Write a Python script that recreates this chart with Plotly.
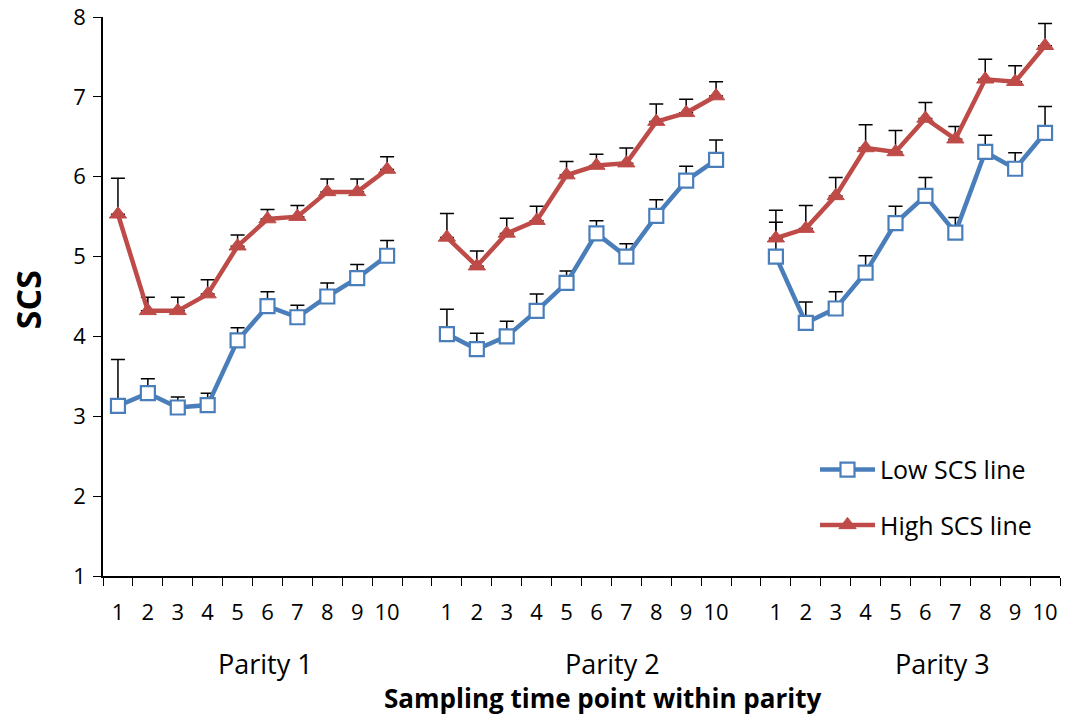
import plotly.graph_objects as go

parities = ["Parity 1", "Parity 2", "Parity 3"]
time_points = ["1", "2", "3", "4", "5", "6", "7", "8", "9", "10"]

low_mean = [
    [3.13, 3.29, 3.11, 3.14, 3.95, 4.38, 4.24, 4.50, 4.73, 5.01],
    [4.03, 3.84, 4.00, 4.32, 4.67, 5.29, 5.00, 5.51, 5.95, 6.21],
    [5.00, 4.17, 4.35, 4.80, 5.42, 5.76, 5.30, 6.31, 6.10, 6.55],
]
low_se = [
    [0.58, 0.18, 0.13, 0.15, 0.16, 0.18, 0.15, 0.17, 0.17, 0.19],
    [0.31, 0.20, 0.19, 0.21, 0.15, 0.16, 0.16, 0.20, 0.18, 0.25],
    [0.43, 0.26, 0.21, 0.21, 0.21, 0.23, 0.19, 0.21, 0.20, 0.33],
]
high_mean = [
    [5.53, 4.32, 4.32, 4.53, 5.13, 5.47, 5.50, 5.81, 5.81, 6.09],
    [5.24, 4.88, 5.29, 5.45, 6.02, 6.14, 6.17, 6.69, 6.80, 7.01],
    [5.23, 5.35, 5.76, 6.36, 6.31, 6.73, 6.47, 7.22, 7.19, 7.64],
]
high_se = [
    [0.45, 0.17, 0.17, 0.18, 0.14, 0.12, 0.14, 0.16, 0.16, 0.16],
    [0.30, 0.19, 0.19, 0.18, 0.17, 0.14, 0.19, 0.22, 0.17, 0.18],
    [0.35, 0.29, 0.23, 0.29, 0.27, 0.20, 0.16, 0.25, 0.20, 0.28],
]

n = len(time_points)
step = n + 1  # one empty slot between parities


def flatten(groups):
    xs, ys = [], []
    for g, vals in enumerate(groups):
        for t, v in enumerate(vals):
            xs.append(g * step + t)
            ys.append(v)
        if g < len(groups) - 1:
            xs.append(None)
            ys.append(None)
    return xs, ys


lx, ly = flatten(low_mean)
_, le = flatten(low_se)
hx, hy = flatten(high_mean)
_, he = flatten(high_se)
le = [0 if v is None else v for v in le]
he = [0 if v is None else v for v in he]

BLUE = "#4A7EBB"
RED = "#BE4B48"
FONT = "Open Sans"
LABEL_XSHIFT = [13, 31, 32]  # group labels sit slightly right of centre

fig = go.Figure()
fig.add_trace(go.Scatter(
    x=lx, y=ly, mode="lines+markers", name="Low SCS line",
    line=dict(color=BLUE, width=4.5),
    marker=dict(symbol="square", size=14, color="white",
                line=dict(color=BLUE, width=2.2)),
    error_y=dict(type="data", symmetric=False, array=le,
                 arrayminus=[0] * len(le), color="black",
                 thickness=1.5, width=7),
    connectgaps=False, legend="legend",
))
fig.add_trace(go.Scatter(
    x=hx, y=hy, mode="lines+markers", name="High SCS line",
    line=dict(color=RED, width=4.5),
    marker=dict(symbol="triangle-up", size=15, color=RED,
                line=dict(color=RED, width=1)),
    error_y=dict(type="data", symmetric=False, array=he,
                 arrayminus=[0] * len(he), color="black",
                 thickness=1.5, width=7),
    connectgaps=False, legend="legend2",
))

tickvals, ticktext = [], []
for g in range(len(parities)):
    for t, lab in enumerate(time_points):
        tickvals.append(g * step + t)
        ticktext.append(lab)

for g, p in enumerate(parities):
    fig.add_annotation(
        x=g * step + (n - 1) / 2, y=0, xref="x", yref="paper",
        yshift=-87, xshift=LABEL_XSHIFT[g], yanchor="middle", text=p,
        showarrow=False,
        font=dict(family=FONT, size=27, color="black"),
    )

fig.add_annotation(
    x=0.522, y=0, xref="paper", yref="paper", yshift=-122,
    yanchor="middle", xanchor="center",
    text="<b>Sampling time point within parity</b>", showarrow=False,
    font=dict(family=FONT, size=26, color="black"),
)
fig.add_annotation(
    x=-0.079, y=0.494, xref="paper", yref="paper",
    xanchor="center", yanchor="middle", textangle=-90,
    text="<b>SCS</b>", showarrow=False,
    font=dict(family=FONT, size=34, color="black"),
)

total = len(parities) * step - 1
fig.update_layout(
    width=1074, height=717,
    margin=dict(l=103, r=14, t=17, b=141),
    paper_bgcolor="white", plot_bgcolor="white",
    font=dict(family=FONT, color="black"),
    xaxis=dict(
        range=[-0.5, total - 0.5], tickvals=tickvals, ticktext=ticktext,
        ticks="", showgrid=False, zeroline=False, automargin=False,
        showline=True, linecolor="black", linewidth=1.5,
        ticklabelstandoff=16,
        tickfont=dict(family=FONT, size=22, color="black"),
        minor=dict(tick0=-0.5, dtick=1, ticks="outside", ticklen=8,
                   tickcolor="black", tickwidth=1.2, showgrid=False),
    ),
    yaxis=dict(
        range=[1, 8], dtick=1, ticks="outside", ticklen=8,
        tickcolor="black", tickwidth=1.2, showgrid=False, zeroline=False,
        showline=True, linecolor="black", linewidth=1.5, automargin=False,
        ticklabelstandoff=3,
        tickfont=dict(family=FONT, size=22, color="black"),
    ),
    legend=dict(x=0.744, y=0.19, xanchor="left", yanchor="middle",
                bgcolor="rgba(0,0,0,0)", itemwidth=55,
                font=dict(family=FONT, size=25, color="black")),
    legend2=dict(x=0.744, y=0.091, xanchor="left", yanchor="middle",
                 bgcolor="rgba(0,0,0,0)", itemwidth=55,
                 font=dict(family=FONT, size=25, color="black")),
    showlegend=True,
)

fig.write_html("out.html",
               config={"displayModeBar": False},
               post_script="document.body.style.margin='0';")
